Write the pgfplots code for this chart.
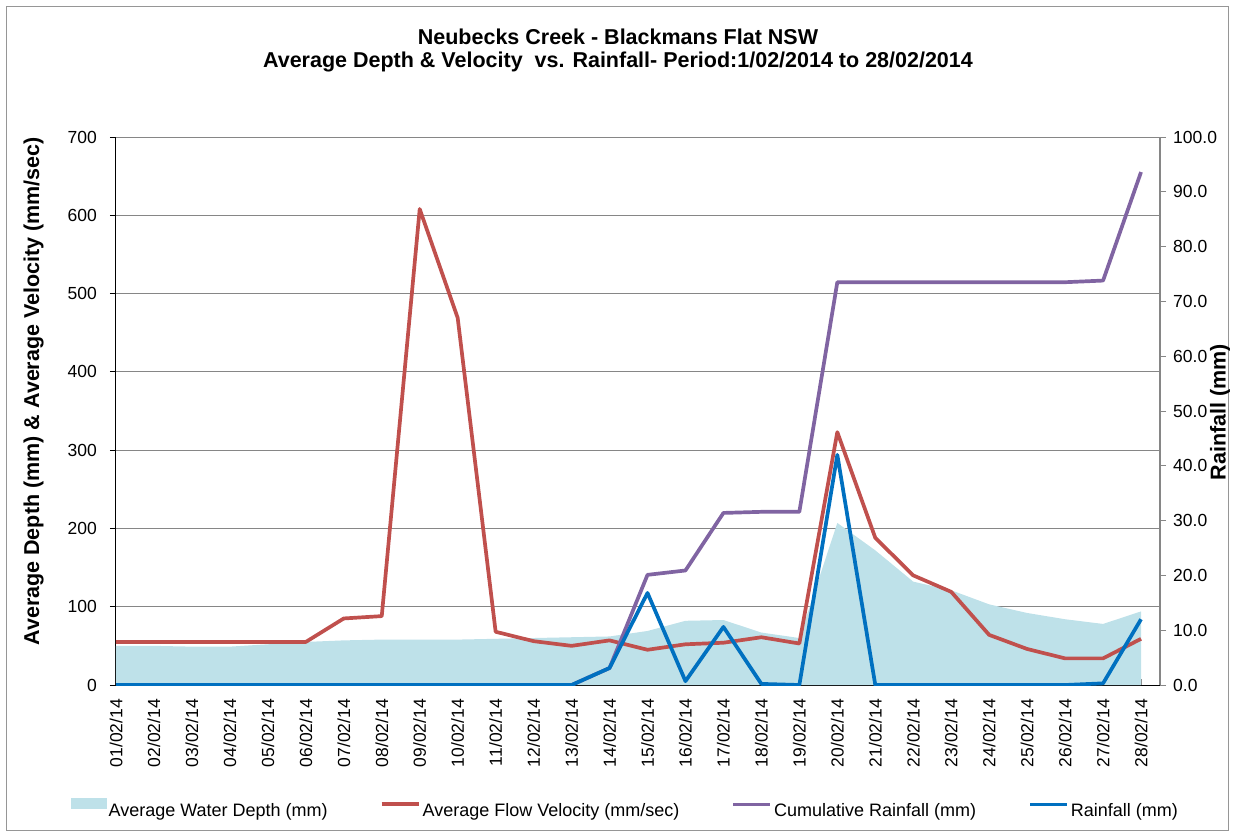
\documentclass[border=0pt]{standalone}
\usepackage{pgfplots}
\pgfplotsset{compat=1.18}
\usepackage{fontspec}
\setmainfont{Liberation Sans}

\definecolor{depthblue}{RGB}{190,225,233}
\definecolor{velred}{RGB}{192,80,77}
\definecolor{cumpurple}{RGB}{128,100,162}
\definecolor{rainblue}{RGB}{0,112,192}
\definecolor{gridgray}{RGB}{134,134,134}
\definecolor{framegray}{RGB}{150,150,150}

\newcommand{\tickfont}{\fontsize{17.5}{20}\selectfont}
\newcommand{\labfont}{\fontsize{21.5}{24}\selectfont\bfseries}

\pgfplotsset{
  flowaxis/.style={
    at={(116pt,151pt)}, anchor=south west,
    width=1044pt, height=548pt, scale only axis,
    xmin=0, xmax=27.5,
    /pgf/number format/assume math mode=true,
    tick align=outside,
    axis line style={-},
  },
  series/.style={#1, line width=3.7pt, line join=round},
}

\begin{document}
\begin{tikzpicture}[x=1pt,y=1pt]
\draw[framegray, line width=1pt] (6,6) rectangle (1228,829);

\node[font=\labfont, anchor=base] at (618,791) {Neubecks Creek - Blackmans Flat NSW};
\node[font=\labfont, anchor=base] at (618,768) {Average Depth \& Velocity\ \ vs. Rainfall- Period:1/02/2014 to 28/02/2014};

% left axis: water depth and flow velocity
\begin{axis}[flowaxis,
  ymin=0, ymax=700, ytick={0,100,...,700},
  axis y line*=left, axis x line*=bottom,
  ymajorgrids, grid style={gridgray, line width=0.9pt},
  xtick={0,...,27},
  xticklabels={01/02/14,02/02/14,03/02/14,04/02/14,05/02/14,06/02/14,07/02/14,
    08/02/14,09/02/14,10/02/14,11/02/14,12/02/14,13/02/14,14/02/14,15/02/14,
    16/02/14,17/02/14,18/02/14,19/02/14,20/02/14,21/02/14,22/02/14,23/02/14,
    24/02/14,25/02/14,26/02/14,27/02/14,28/02/14},
  xticklabel style={rotate=90, anchor=east, font=\tickfont, inner sep=0pt, xshift=-8pt},
  yticklabel style={font=\tickfont, inner sep=0pt, xshift=-13pt},
  xtick style={gridgray, line width=0.9pt, yshift=6pt},
  ytick style={black, line width=0.9pt},
  major tick length=6pt,
  x axis line style={black, line width=1pt},
  y axis line style={black, line width=1pt},
  ylabel={Average Depth (mm) \& Average Velocity (mm/sec)},
  ylabel style={font=\labfont, at={(axis description cs:-0.079,0.536)}, anchor=center},
]
\addplot[fill=depthblue, draw=none] coordinates {
  (0,50) (1,50) (2,49) (3,49) (4,52) (5,55) (6,57) (7,58) (8,58) (9,58)
  (10,59) (11,60) (12,61) (13,62) (14,69) (15,82) (16,83) (17,67) (18,60)
  (19,207) (20,172) (21,132) (22,121) (23,103) (24,92) (25,84) (26,78) (27,94)
} \closedcycle;
\addplot[series=velred] coordinates {
  (0,55) (1,55) (2,55) (3,55) (4,55) (5,55) (6,85) (7,88) (8,608) (9,469)
  (10,68) (11,56) (12,50) (13,57) (14,45) (15,52) (16,54) (17,61) (18,53)
  (19,323) (20,188) (21,140) (22,119) (23,64) (24,46) (25,34) (26,34) (27,59)
};
\end{axis}

% right axis: rainfall
\begin{axis}[flowaxis,
  ymin=0, ymax=100, ytick={0,10,...,100},
  axis y line*=right, axis x line=none,
  yticklabel style={font=\tickfont, inner sep=0pt, xshift=7pt,
    /pgf/number format/.cd, fixed, fixed zerofill, precision=1},
  ytick style={gridgray, line width=0.9pt},
  major tick length=6pt,
  y axis line style={gridgray, line width=1.2pt},
  ylabel={Rainfall (mm)},
  ylabel style={font=\labfont, at={(axis description cs:1.0575,0.498)}, anchor=center},
  legend columns=4,
  legend cell align=left,
  legend style={draw=none, fill=none, font=\fontsize{18}{21}\selectfont,
    at={(axis description cs:-0.0431,-0.2263)}, anchor=west, inner sep=0pt,
    /tikz/every even column/.append style={column sep=50pt}},
  legend image code/.code={\draw[#1] (0pt,6pt) -- (37pt,6pt);},
]
\addlegendimage{legend image code/.code={\fill[depthblue] (0pt,2pt) rectangle (35pt,12pt);}}
\addlegendentry{Average Water Depth (mm)}
\addlegendimage{velred, line width=4pt}
\addlegendentry{Average Flow Velocity (mm/sec)}
\addplot[series=cumpurple] coordinates {
  (0,0) (1,0) (2,0) (3,0) (4,0) (5,0) (6,0) (7,0) (8,0) (9,0) (10,0) (11,0)
  (12,0) (13,3.1) (14,20.1) (15,20.9) (16,31.4) (17,31.6) (18,31.6)
  (19,73.5) (20,73.5) (21,73.5) (22,73.5) (23,73.5) (24,73.5) (25,73.5)
  (26,73.8) (27,93.6)
};
\addlegendentry{Cumulative Rainfall (mm)}
\addplot[series=rainblue] coordinates {
  (0,0) (1,0) (2,0) (3,0) (4,0) (5,0) (6,0) (7,0) (8,0) (9,0) (10,0) (11,0)
  (12,0) (13,3.1) (14,16.8) (15,0.7) (16,10.6) (17,0.2) (18,0)
  (19,42.0) (20,0) (21,0) (22,0) (23,0) (24,0) (25,0) (26,0.3) (27,12.0)
};
\addlegendentry{Rainfall (mm)}
\end{axis}

\pgfresetboundingbox
\path[use as bounding box] (0,0) rectangle (1234,836);
\end{tikzpicture}
\end{document}
